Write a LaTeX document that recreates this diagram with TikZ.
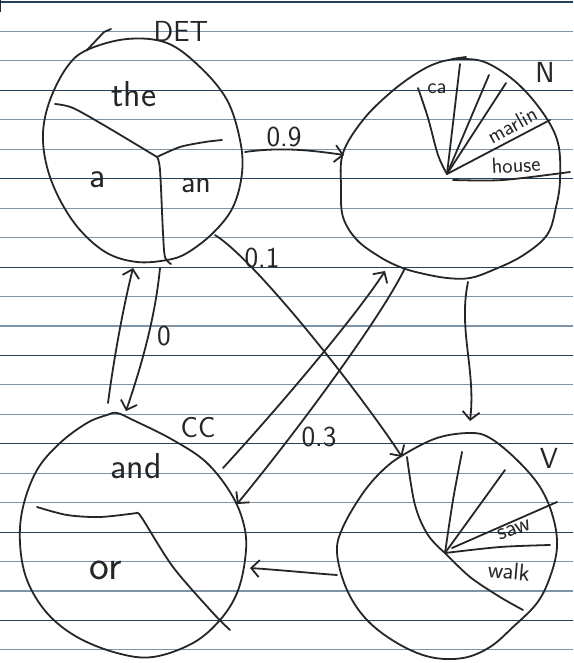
\documentclass[tikz,border=0pt]{standalone}
\usepackage{fontspec}
\usetikzlibrary{arrows.meta}
\definecolor{inkc}{RGB}{38,38,38}
\definecolor{navyline}{RGB}{35,65,95}
\definecolor{greyline}{RGB}{125,148,168}
\tikzset{
  ink/.style={draw=inkc, line width=1.8pt, line join=round, line cap=round},
  arr/.style={ink, -{Straight Barb[length=8pt,width=17pt,line width=1.8pt]}},
  lbl/.style={text=inkc, font=\sffamily\fontsize{29}{29}\selectfont, inner sep=0pt},
  wrd/.style={text=inkc, font=\sffamily\fontsize{36}{36}\selectfont, inner sep=0pt},
  small/.style={text=inkc, font=\sffamily\fontsize{22}{22}\selectfont, inner sep=0pt},
}
\begin{document}
\begin{tikzpicture}[x=1pt,y=-1pt]
\useasboundingbox (0,0) rectangle (573,663);
\fill[white] (0,0) rectangle (573,663);
% ruled paper
\foreach \k [evaluate=\k as \yy using 2+29.45*\k] in {0,...,22}{
  \pgfmathparse{int(mod(\k,3))}
  \ifnum\pgfmathresult=0
    \draw[navyline, line width=1.1pt] (0,\yy) -- (573,\yy);
  \else
    \draw[greyline, line width=1.1pt] (0,\yy) -- (573,\yy);
  \fi
}
\draw[inkc, line width=1.5pt] (0.5,0) -- (0.5,12);

% ---------- DET ----------
\draw[ink] plot[smooth cycle, tension=0.6] coordinates {
 (87,50) (127,39) (167,43) (200,67) (227,100) (240,140) (242,173) (233,207)
 (213,233) (187,253) (167,260) (137,262) (107,253) (80,230) (60,200) (47,167)
 (43,133) (50,100) (67,67)};
\draw[ink] (87,50) -- (104,32) -- (111,29);
\coordinate (detc) at (157,157);
\draw[ink] plot[smooth, tension=0.5] coordinates {(55,104) (73,108) (107,127) (157,157)};
\draw[ink] plot[smooth, tension=0.5] coordinates {(157,157) (180,147) (205,142) (222,140)};
\draw[ink] plot[smooth, tension=0.5] coordinates {(157,157) (160,170) (163,233) (165,257) (171,264)};
\node[lbl] (detlab) at (181,31) {DET};
\node[wrd] (the) at (134,94) {the};
\node[wrd] (wa) at (98,180) {a};
\node[wrd, font=\sffamily\fontsize{32}{32}\selectfont] (wan) at (196,186) {an};

% ---------- N ----------
\draw[ink] plot[smooth cycle, tension=0.6] coordinates {
 (463,59) (487,63) (517,83) (543,113) (558,143) (560,180) (556,207) (547,235)
 (522,256) (493,270) (470,278) (447,278) (420,273) (400,267) (380,257) (357,240)
 (343,217) (341,187) (343,153) (363,120) (390,93) (417,73) (440,62)};
\draw[ink] (452,59) -- (466,57);
\coordinate (nc) at (447,174);
\draw[ink] plot[smooth, tension=0.6] coordinates {(447,174) (438,155) (428,118) (418,88)};
\draw[ink] (nc) -- (460,64);
\draw[ink] (nc) -- (489,75);
\draw[ink] (nc) -- (506,83);
\draw[ink] (nc) -- (550,120);
\draw[ink] plot[smooth, tension=0.5] coordinates {(453,180) (503,180) (570,172)};
\node[lbl] (nlab) at (545,72) {N};
\node[small] (ca) at (437,89) {ca};
\node[small, rotate=29] (marlin) at (512,125) {marlin};
\node[small, rotate=3] (house) at (516,165) {house};

% ---------- CC ----------
\draw[ink] plot[smooth cycle, tension=0.6] coordinates {
 (117,413) (133,420) (173,440) (207,463) (233,497) (245,530) (245,560) (237,593)
 (220,620) (193,643) (153,657) (117,653) (77,637) (47,613) (27,580) (20,543)
 (23,507) (37,470) (60,443) (87,423) (107,415)};
\draw[ink] plot[smooth, tension=0.5] coordinates {(37,507) (67,515) (100,517) (137,513)};
\draw[ink] plot[smooth, tension=0.5] coordinates {(137,513) (142,518) (173,567) (213,613) (230,630)};
\node[lbl] (cclab) at (198,428) {CC};
\node[wrd] (wand) at (136,466) {and};
\node[wrd, font=\sffamily\fontsize{42}{42}\selectfont] (wor) at (106,570) {or};

% ---------- V ----------
\draw[ink] plot[smooth cycle, tension=0.6] coordinates {
 (470,433) (490,438) (517,460) (540,487) (553,517) (557,547) (550,577) (537,603)
 (513,627) (490,647) (463,658) (430,657) (397,643) (367,620) (347,590) (337,553)
 (343,527) (363,493) (383,470) (403,455) (437,438)};
\coordinate (vc) at (445,553);
\draw[ink] plot[smooth, tension=0.6] coordinates {(445,553) (428,535) (415,505) (407,457)};
\draw[ink] plot[smooth, tension=0.5] coordinates {(445,553) (453,500) (462,452)};
\draw[ink] (vc) -- (505,470);
\draw[ink] (452,548) -- (557,502);
\draw[ink] plot[smooth, tension=0.5] coordinates {(445,553) (500,547) (550,545)};
\draw[ink] plot[smooth, tension=0.5] coordinates {(445,553) (470,577) (500,597) (523,610)};
\node[lbl] (vlab) at (549,458) {V};
\node[small, font=\sffamily\fontsize{24}{24}\selectfont, rotate=20] (saw) at (514,530) {saw};
\node[small, font=\sffamily\fontsize{24}{24}\selectfont, rotate=-5] (walk) at (509,571) {walk};

% ---------- connectors ----------
\coordinate (det-e) at (245,152);
\coordinate (n-w) at (344,155);
\coordinate (det-se) at (215,235);
\coordinate (v-nw) at (402,457);
\coordinate (cc-ne) at (223,468);
\coordinate (n-sw) at (385,271);
\coordinate (n-s) at (405,268);
\coordinate (cc-e) at (237,504);
\coordinate (n-b) at (468,282);
\coordinate (v-n) at (470,421);
\coordinate (v-w) at (337,575);
\coordinate (cc-e2) at (250,568);
\coordinate (cc-n) at (108,403);
\coordinate (det-s) at (133,268);
\coordinate (det-s2) at (160,268);
\coordinate (cc-n2) at (126,411);

\draw[arr] (det-e) .. controls (280,147) and (310,150) .. (n-w);
\node[lbl] (p09) at (284,137) {0.9};
\draw[arr] (det-se) .. controls (258,262) and (365,400) .. (v-nw);
\node[lbl] (p01) at (262,258) {0.1};
\draw[arr] (cc-ne) .. controls (290,395) and (360,310) .. (n-sw);
\draw[arr] (n-s) .. controls (380,320) and (290,440) .. (cc-e);
\node[lbl] (p03) at (319,437) {0.3};
\draw[arr] (n-b) .. controls (458,330) and (476,370) .. (v-n);
\draw[arr] (v-w) .. controls (310,573) and (280,570) .. (cc-e2);
\draw[arr] (cc-n) .. controls (115,350) and (125,300) .. (det-s);
\draw[arr] (det-s2) .. controls (155,320) and (140,370) .. (cc-n2);
\node[lbl] (p0) at (164,336) {0};
\end{tikzpicture}
\end{document}
